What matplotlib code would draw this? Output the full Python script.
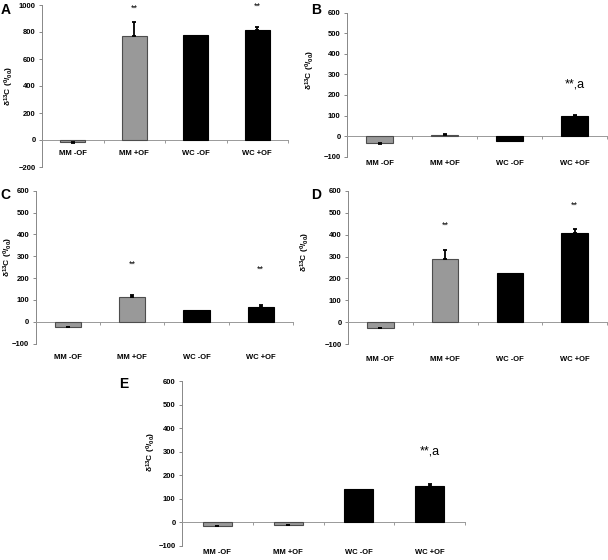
import matplotlib
matplotlib.use("Agg")
import matplotlib.pyplot as plt
import matplotlib.transforms as mtransforms
import numpy as np

plt.rcParams['font.family'] = ['Liberation Sans', 'DejaVu Sans']
plt.rcParams['mathtext.fontset'] = 'custom'
plt.rcParams['mathtext.rm'] = 'Liberation Sans:bold'
plt.rcParams['mathtext.default'] = 'rm'

categories = ["MM -OF", "MM +OF", "WC -OF", "WC +OF"]

vals_A = [-15, 770, 780, 815]
err_A = [4, 105, 0, 25]
vals_B = [-35, 5, -25, 100]
err_B = [3, 7, 0, 5]
vals_C = [-22, 115, 55, 70]
err_C = [3, 10, 0, 5]
vals_D = [-25, 290, 225, 407]
err_D = [2, 38, 0, 17]
vals_E = [-15, -10, 142, 156]
err_E = [2, 2, 0, 6]

ylims = {"A": (-200, 1000), "B": (-100, 600), "C": (-100, 600), "D": (-100, 600), "E": (-100, 600)}
ystep = {"A": 200, "B": 100, "C": 100, "D": 100, "E": 100}

# annotations: (category index, y value, text)
ann_A = [(1, 975, "**"), (3, 990, "**")]
ann_B = [(3, 253, "**,a")]
ann_C = [(1, 263, "**"), (3, 240, "**")]
ann_D = [(1, 444, "**"), (3, 535, "**")]
ann_E = [(3, 302, "**,a")]

bar_colors = ["#999999", "#999999", "#000000", "#000000"]
edge_colors = ["#4d4d4d", "#4d4d4d", "#000000", "#000000"]

W, H = 608, 560
fig = plt.figure(figsize=(W / 100, H / 100), dpi=100)

def px_axes(l, r, t, b):
    return fig.add_axes([l / W, 1 - b / H, (r - l) / W, (b - t) / H])

panels = [
    ("A", vals_A, err_A, ann_A, (42, 288, 5, 167), 0.086, (26, 0.5), (1, 3)),
    ("B", vals_B, err_B, ann_B, (347, 607, 12.7, 156.7), -0.05, (30, 0.60), (311, 3)),
    ("C", vals_C, err_C, ann_C, (35.7, 293, 190.7, 343.7), -0.092, (21, 0.57), (0, 188)),
    ("D", vals_D, err_D, ann_D, (348, 607, 190.7, 344.3), -0.102, (36, 0.60), (311, 188)),
    ("E", vals_E, err_E, ann_E, (182, 465, 381, 546), -0.042, (24, 0.57), (119, 377)),
]

x = np.arange(len(categories))
for name, vals, errs, anns, (l, r, t, b), laby, (yoff, ylab_y), (lx, ly) in panels:
    ax = px_axes(l, r, t, b)
    vals = np.array(vals, dtype=float)
    errs = np.array(errs, dtype=float)
    ax.bar(x, vals, width=0.41, color=bar_colors, edgecolor=edge_colors, linewidth=0.8, zorder=3)
    lower = np.where(vals < 0, errs, 0)
    upper = np.where(vals >= 0, errs, 0)
    mask = errs > 0
    ax.errorbar(x[mask], vals[mask], yerr=[lower[mask], upper[mask]], fmt='none',
                ecolor='black', elinewidth=1.3, capsize=1.6, capthick=1.3, zorder=4)
    lo, hi = ylims[name]
    ax.set_ylim(lo, hi)
    ax.set_xlim(-0.5, 3.5)
    ax.set_yticks(np.arange(lo, hi + 1, ystep[name]))
    ax.tick_params(axis='y', direction='out', length=2.5, width=0.7, color='#888888',
                   labelsize=5.5, pad=2)
    for lab in ax.get_yticklabels():
        lab.set_fontweight('bold')
    for s in ['top', 'right']:
        ax.spines[s].set_visible(False)
    ax.spines['left'].set_color('#888888')
    ax.spines['left'].set_linewidth(0.7)
    ax.spines['bottom'].set_position(('data', 0))
    ax.spines['bottom'].set_color('#999999')
    ax.spines['bottom'].set_linewidth(0.7)
    ax.set_xticks([])
    ax.set_xticks([0.5, 1.5, 2.5, 3.5], minor=True)
    ax.tick_params(axis='x', which='minor', direction='out', length=2.5, width=0.7,
                   color='#999999', labelbottom=False)
    trans = mtransforms.blended_transform_factory(ax.transData, ax.transAxes)
    for xi, c in zip(x, categories):
        ax.text(xi, laby, c, transform=trans, ha='center', va='center',
                fontsize=5.5, fontweight='bold', clip_on=False)
    for ci, yv, txt in anns:
        fs = 6.5 if txt == "**" else 9
        ax.text(ci, yv, txt, ha='center', va='center', fontsize=fs, zorder=5)
    ax.set_ylabel(r'δ$^{13}$C ($^{0}$/$_{00}$)', fontsize=6, fontweight='bold')
    ax.yaxis.set_label_coords(-yoff / (r - l), ylab_y)
    ax.patch.set_alpha(0)
    fig.text(lx / W, 1 - ly / H, name, ha='left', va='top', fontsize=10, fontweight='bold')

fig.savefig("out.png", dpi=100)
